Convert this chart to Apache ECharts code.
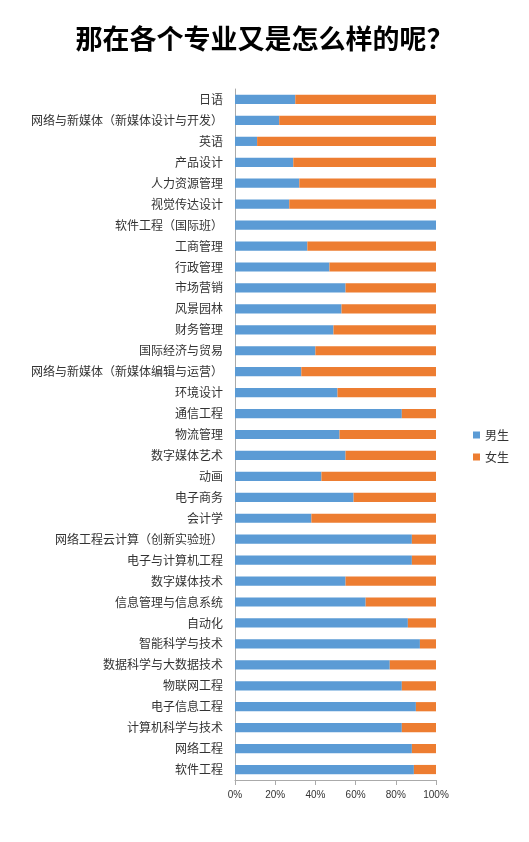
<!DOCTYPE html>
<html>
<head>
<meta charset="utf-8">
<script src="https://cdn.jsdelivr.net/npm/echarts@6/dist/echarts.min.js"></script>
<style>html,body{margin:0;padding:0;background:#fff}#main{width:529px;height:842px}</style>
</head>
<body>
<div id="main"></div>
<script>
// 专业（从上到下）
const majors = ['日语', '网络与新媒体（新媒体设计与开发）', '英语', '产品设计', '人力资源管理', '视觉传达设计',
    '软件工程（国际班）', '工商管理', '行政管理', '市场营销', '风景园林', '财务管理', '国际经济与贸易',
    '网络与新媒体（新媒体编辑与运营）', '环境设计', '通信工程', '物流管理', '数字媒体艺术', '动画', '电子商务',
    '会计学', '网络工程云计算（创新实验班）', '电子与计算机工程', '数字媒体技术', '信息管理与信息系统', '自动化',
    '智能科学与技术', '数据科学与大数据技术', '物联网工程', '电子信息工程', '计算机科学与技术', '网络工程', '软件工程'];
// 男生占比
const male = [0.30, 0.22, 0.11, 0.29, 0.32, 0.27, 1.00, 0.36, 0.47, 0.55, 0.53, 0.49, 0.40, 0.33, 0.51, 0.83,
    0.52, 0.55, 0.43, 0.59, 0.38, 0.88, 0.88, 0.55, 0.65, 0.86, 0.92, 0.77, 0.83, 0.90, 0.83, 0.88, 0.89];
// 女生占比
const female = [0.70, 0.78, 0.89, 0.71, 0.68, 0.73, 0.00, 0.64, 0.53, 0.45, 0.47, 0.51, 0.60, 0.67, 0.49, 0.17,
    0.48, 0.45, 0.57, 0.41, 0.62, 0.12, 0.12, 0.45, 0.35, 0.14, 0.08, 0.23, 0.17, 0.10, 0.17, 0.12, 0.11];

let chart = echarts.init(document.getElementById('main'));
chart.setOption({
    animation: false,
    title: {
        text: '那在各个专业又是怎么样的呢？',
        left: 'center', top: 20,
        textStyle: {fontSize: 27, fontWeight: 'bold', color: '#000', fontFamily: 'Noto Sans CJK SC'}
    },
    legend: {
        orient: 'vertical', left: 468, top: 424, itemWidth: 7, itemHeight: 7, itemGap: 10,
        icon: 'rect',
        textStyle: {fontSize: 12, color: '#333', fontFamily: 'Noto Sans CJK SC'},
        data: ['男生', '女生']
    },
    grid: {left: 235, right: 93, top: 89, bottom: 62},
    xAxis: {
        type: 'value', min: 0, max: 1, interval: 0.2,
        axisLabel: {formatter: v => Math.round(v * 100) + '%', fontSize: 10, color: '#333', margin: 10},
        splitLine: {show: false},
        axisLine: {show: true, lineStyle: {color: '#aaa'}},
        axisTick: {show: true, lineStyle: {color: '#aaa'}}
    },
    yAxis: {
        type: 'category', data: majors, inverse: true,
        axisLabel: {fontSize: 12, color: '#333', fontFamily: 'Noto Sans CJK SC', margin: 12},
        axisLine: {lineStyle: {color: '#aaa'}},
        axisTick: {show: false}
    },
    series: [
        {name: '男生', type: 'bar', stack: 'a', data: male, barWidth: '44%', itemStyle: {color: '#5b9bd5'}},
        {name: '女生', type: 'bar', stack: 'a', data: female, itemStyle: {color: '#ed7d31'}}
    ]
});
</script>
</body>
</html>
